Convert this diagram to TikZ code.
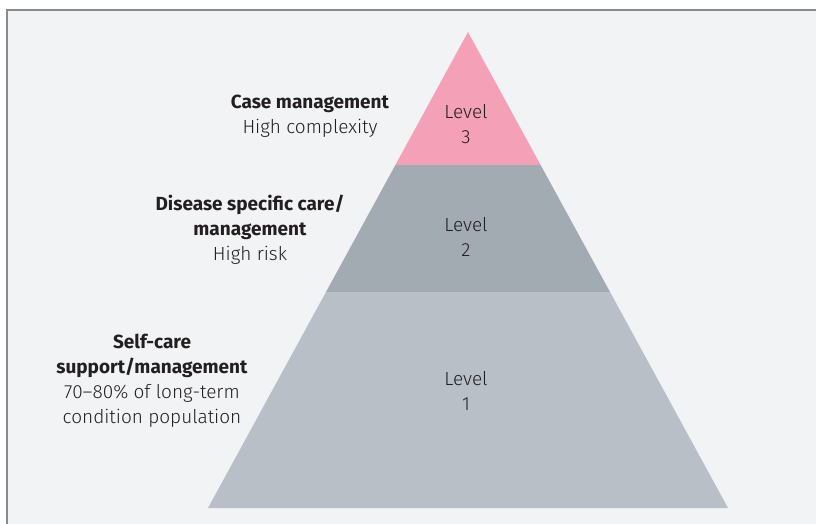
\documentclass[tikz,border=0pt]{standalone}
\usepackage{fontspec}
\setmainfont{Fira Sans Light}[BoldFont={Fira Sans Bold}]
\definecolor{bgc}{HTML}{F2F3F5}
\definecolor{framec}{HTML}{8A8A8A}
\definecolor{pinkc}{HTML}{F4A0B6}
\definecolor{midc}{HTML}{A2AAB2}
\definecolor{lowc}{HTML}{B8BFC6}
\definecolor{txtc}{HTML}{231F20}
\begin{document}
\begin{tikzpicture}[x=1pt,y=-1pt,
  lbl/.style={align=center,text=txtc,font=\fontsize{19}{25}\selectfont, inner sep=0pt, anchor=base},
  lvl/.style={lbl}]
\useasboundingbox (0,0) rectangle (816,524);
\fill[bgc] (7,10) rectangle (816,524);
\draw[framec,line width=1.6pt] (7,524) -- (7,10) -- (816,10);
% pyramid bands
\coordinate (apex) at (468,32);
\fill[pinkc] (apex) -- (540.6,165) -- (395.4,165) -- cycle;
\fill[midc] (395.4,165) -- (540.6,165) -- (610.4,292.7) -- (325.6,292.7) -- cycle;
\fill[lowc] (325.6,292.7) -- (610.4,292.7) -- (728,508) -- (208,508) -- cycle;
% level labels
\node[lvl] (l3) at (466,143) {Level\\3};
\node[lvl] (l2) at (466,256) {Level\\2};
\node[lvl] (l1) at (466,410) {Level\\1};
% side labels
\node[lbl] (t3) at (310,133.5) {\textbf{Case management}\\High complexity};
\node[lbl] (t2) at (250,260) {\textbf{Disease specific care/}\\\textbf{management}\\High risk};
\node[lbl] (t1) at (152,423) {\textbf{Self-care}\\\textbf{support/management}\\70–80\% of long-term\\condition population};
\end{tikzpicture}
\end{document}
